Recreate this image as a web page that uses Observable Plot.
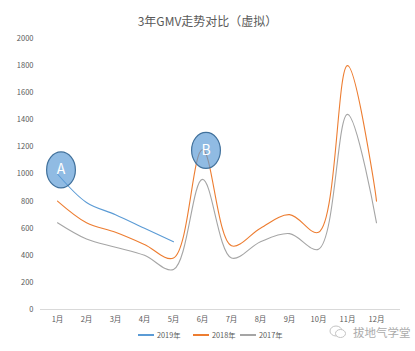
<!DOCTYPE html>
<html>
<head>
<meta charset="utf-8">
<script src="https://cdn.jsdelivr.net/npm/d3@7"></script>
<script src="https://cdn.jsdelivr.net/npm/@observablehq/plot@0.6"></script>
<style>
  html, body { margin: 0; padding: 0; background: #fff; }
  #wrap { position: relative; width: 415px; height: 351px; font-family: "Noto Sans CJK SC", "Noto Sans", sans-serif; color: #595959; overflow: hidden; }
  #title { position: absolute; top: 12px; left: 0; width: 415px; text-align: center; font-size: 12px; color: #595959; }
  #plot { position: absolute; left: 0; top: 0; }
  .leg { position: absolute; top: 330px; font-size: 7.3px; color: #595959; display: flex; align-items: center; white-space: nowrap; }
  .leg span.sw { display: inline-block; width: 16px; height: 1.5px; margin-right: 3px; }
  #wm { position: absolute; left: 329px; top: 324px; font-size: 11.5px; color: #ababab; display: flex; align-items: center; white-space: nowrap; }
</style>
</head>
<body>
<div id="wrap">
  <div id="plot"></div>
  <div id="title"></div>
  <div id="legend"></div>
  <div id="wm">
    <svg width="18" height="14" viewBox="0 0 18 14" style="margin-right:6px">
      <ellipse cx="7" cy="6" rx="6" ry="5" fill="none" stroke="#c4c4c4" stroke-width="1"/>
      <ellipse cx="11.5" cy="8.5" rx="5" ry="4" fill="#fff" stroke="#c4c4c4" stroke-width="1"/>
    </svg>
    <span>拔地气学堂</span>
  </div>
</div>
<script>
const titleText = "3年GMV走势对比（虚拟）";
const months = ["1月","2月","3月","4月","5月","6月","7月","8月","9月","10月","11月","12月"];
const seriesNames = ["2019年","2018年","2017年"];
const seriesColors = ["#5b9bd5","#ed7d31","#a5a5a5"];
const v2019 = [1000, 790, 700, 600, 500, null, null, null, null, null, null, null];
const v2018 = [800, 640, 570, 480, 380, 1180, 470, 600, 700, 570, 1800, 800];
const v2017 = [640, 520, 460, 400, 295, 960, 380, 500, 560, 445, 1440, 640];
const yTicks = [0, 200, 400, 600, 800, 1000, 1200, 1400, 1600, 1800, 2000];
const annLabels = ["A", "B"];
const annMonths = ["1月", "6月"];
const annValues = [1030, 1175];

const seriesValues = [v2019, v2018, v2017];
const rows = [];
seriesNames.forEach((s, i) => {
  months.forEach((m, j) => {
    const v = seriesValues[i][j];
    if (v != null) rows.push({series: s, month: m, value: v});
  });
});
const ann = annLabels.map((l, i) => ({label: l, month: annMonths[i], value: annValues[i]}));

// ellipse symbol (taller than wide)
const ellipseSymbol = {
  draw(ctx, size) {
    const r = Math.sqrt(size / Math.PI);
    const rx = r * 0.8, ry = r, k = 0.5523;
    ctx.moveTo(rx, 0);
    ctx.bezierCurveTo(rx, ry * k, rx * k, ry, 0, ry);
    ctx.bezierCurveTo(-rx * k, ry, -rx, ry * k, -rx, 0);
    ctx.bezierCurveTo(-rx, -ry * k, -rx * k, -ry, 0, -ry);
    ctx.bezierCurveTo(rx * k, -ry, rx, -ry * k, rx, 0);
    ctx.closePath();
  }
};

document.getElementById("title").textContent = titleText;

const chart = Plot.plot({
  width: 415,
  height: 351,
  marginTop: 38,
  marginBottom: 42,
  marginLeft: 40,
  marginRight: 15,
  style: {fontFamily: "'Noto Sans CJK SC', 'Noto Sans', sans-serif", fontSize: "7.5px", color: "#595959", background: "transparent"},
  x: {type: "point", domain: months, padding: 0.62, align: 0.41, label: null},
  y: {domain: [0, 2000], label: null},
  color: {domain: seriesNames, range: seriesColors},
  marks: [
    Plot.ruleY([0], {stroke: "#d9d9d9", strokeWidth: 1}),
    Plot.axisY({ticks: yTicks, tickSize: 0, tickPadding: 7, tickFormat: d => String(d), label: null}),
    Plot.axisX({tickSize: 0, tickPadding: 7, label: null}),
    Plot.line(rows, {x: "month", y: "value", z: "series", stroke: "series", strokeWidth: 1.1, curve: "catmull-rom"}),
    Plot.dot(ann, {x: "month", y: "value", r: 18, dx: 3.5, symbol: ellipseSymbol, fill: "#5b9bd5", fillOpacity: 0.68, stroke: "#41719c", strokeWidth: 1.2}),
    Plot.text(ann, {x: "month", y: "value", text: "label", fill: "white", fontSize: 14, dx: 3.5})
  ]
});
document.getElementById("plot").appendChild(chart);

// legend
const legend = document.getElementById("legend");
const legX = [138, 193, 240];
seriesNames.forEach((s, i) => {
  const d = document.createElement("div");
  d.className = "leg";
  d.style.left = legX[i] + "px";
  const sw = document.createElement("span");
  sw.className = "sw";
  sw.style.background = seriesColors[i];
  d.appendChild(sw);
  d.appendChild(document.createTextNode(s));
  legend.appendChild(d);
});
</script>
</body>
</html>
